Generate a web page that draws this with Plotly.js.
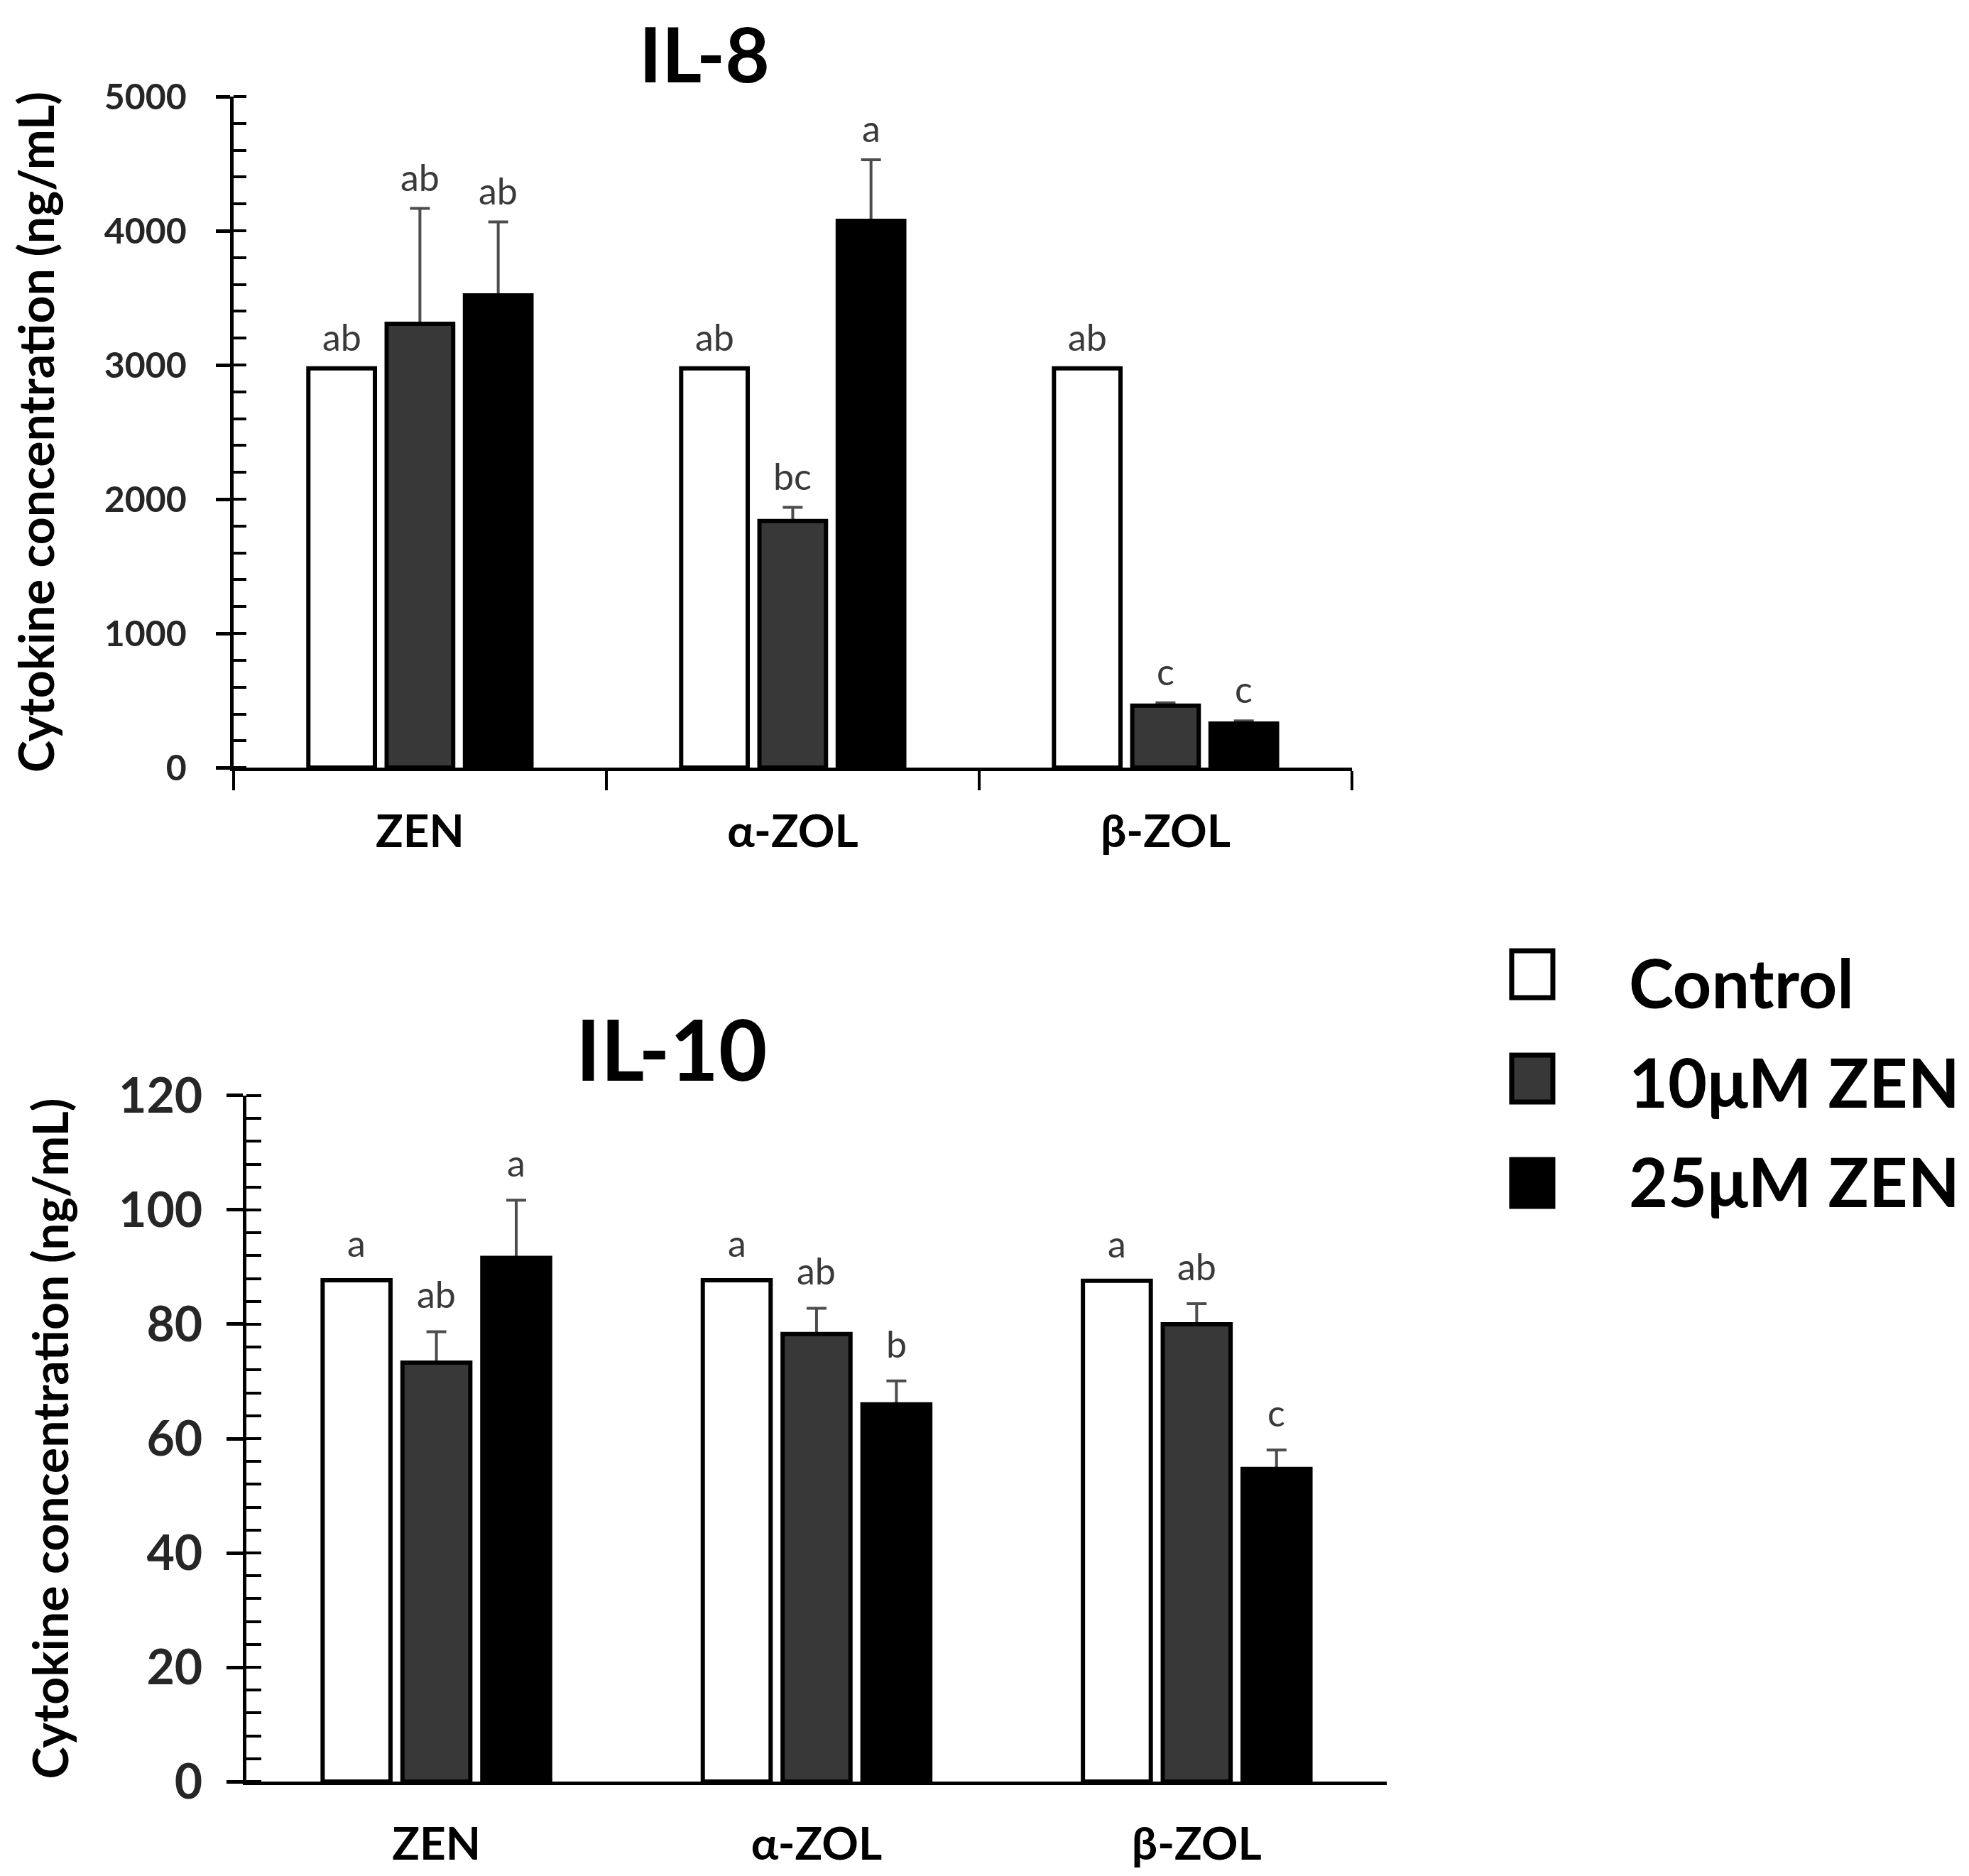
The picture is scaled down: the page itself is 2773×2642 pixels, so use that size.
<!DOCTYPE html>
<html>
<head>
<meta charset="utf-8">
<script src="https://cdn.plot.ly/plotly-3.0.1.min.js"></script>
<style>
  html, body { margin: 0; padding: 0; background: #fff; }
</style>
</head>
<body>
<div id="chart" style="width:2773px;height:2642px"></div>
<script>
// categories + series
const categories = ["ZEN", "α-ZOL", "β-ZOL"];
const seriesNames = ["Control", "10μM ZEN", "25μM ZEN"];

// IL-8 (ng/mL)
const il8Control = [2975, 2975, 2975];
const il8Zen10 = [3307, 1838, 462];
const il8Zen25 = [3519, 4074, 328];
const il8Zen10Err = [860, 101, 21];
const il8Zen25Err = [547, 456, 21];
const il8Letters = [["ab", "ab", "ab"], ["ab", "bc", "c"], ["ab", "a", "c"]];

// IL-10 (ng/mL)
const il10Control = [87.7, 87.7, 87.6];
const il10Zen10 = [73.3, 78.3, 80.0];
const il10Zen25 = [91.6, 66.0, 54.7];
const il10Zen10Err = [5.4, 4.5, 3.6];
const il10Zen25Err = [10.1, 4.1, 3.3];
const il10Letters = [["a", "a", "a"], ["ab", "ab", "ab"], ["a", "b", "c"]];

const FONT = 'Lato, "Open Sans", sans-serif';
const BARGAP = 0.37;
const fills = ["#ffffff", "#383838", "#000000"];

const errStyle = { type: "data", symmetric: false, color: "#4d4d4d", thickness: 4, width: 14 };

// error bars sit on a transparent copy of each bar, drawn first,
// so the real bar covers the lower cap
function makeBars(values, errs, xa, ya) {
  const under = [];
  const over = [];
  values.forEach((v, k) => {
    const u = {
      type: "bar", x: categories, y: v, xaxis: xa, yaxis: ya,
      offsetgroup: "g" + k, showlegend: false, hoverinfo: "skip",
      marker: { color: "rgba(0,0,0,0)", line: { width: 0 } }
    };
    if (errs[k]) {
      u.error_y = Object.assign({}, errStyle, {
        array: errs[k],
        arrayminus: errs[k].map(() => 0)
      });
    }
    under.push(u);
    over.push({
      type: "bar", x: categories, y: v, name: seriesNames[k], xaxis: xa, yaxis: ya,
      offsetgroup: "g" + k, showlegend: false, hoverinfo: "skip",
      marker: { color: fills[k], line: { color: "#000", width: 6 } }
    });
  });
  return under.concat(over);
}

const il8Values = [il8Control, il8Zen10, il8Zen25];
const il8Errs = [null, il8Zen10Err, il8Zen25Err];
const il10Values = [il10Control, il10Zen10, il10Zen25];
const il10Errs = [null, il10Zen10Err, il10Zen25Err];

const data = [
  ...makeBars(il8Values, il8Errs, "x", "y"),
  ...makeBars(il10Values, il10Errs, "x2", "y2")
];

// significance letters above each bar (or its error bar)
function letterNotes(values, errs, letters, xa, ya, shift) {
  const slot = (1 - BARGAP) / values.length;
  const notes = [];
  values.forEach((v, k) => {
    v.forEach((val, i) => {
      notes.push({
        xref: xa, yref: ya,
        x: i + (k - 1) * slot,
        y: val + (errs[k] ? errs[k][i] : 0),
        text: letters[k][i],
        showarrow: false,
        yanchor: "bottom",
        yshift: shift,
        font: { family: FONT, size: 52, color: "#3a3a3a" }
      });
    });
  });
  return notes;
}

const annotations = [
  ...letterNotes(il8Values, il8Errs, il8Letters, "x", "y", 12),
  ...letterNotes(il10Values, il10Errs, il10Letters, "x2", "y2", 20),
  { xref: "paper", yref: "paper", x: 0.3577, y: 0.972, text: "<b>IL-8</b>", showarrow: false,
    xanchor: "center", yanchor: "middle", font: { family: FONT, size: 108, color: "#000" } },
  { xref: "paper", yref: "paper", x: 0.3411, y: 0.441, text: "<b>IL-10</b>", showarrow: false,
    xanchor: "center", yanchor: "middle", font: { family: FONT, size: 118, color: "#000" } }
];

// legend drawn by hand so the swatches can be as big as the text
const shapes = [];
seriesNames.forEach((name, k) => {
  const yc = 1 - (1372 + 147 * k) / 2642;
  shapes.push({
    type: "rect", xref: "paper", yref: "paper",
    xsizemode: "pixel", ysizemode: "pixel",
    xanchor: 0.7782, yanchor: yc,
    x0: -29, x1: 29, y0: -33, y1: 33,
    fillcolor: fills[k], line: { color: "#000", width: 7 }
  });
  annotations.push({
    xref: "paper", yref: "paper", x: 0.8266, y: 1 - (1383 + 140 * k) / 2642,
    text: "<b>" + name + "</b>", showarrow: false, xanchor: "left", yanchor: "middle",
    font: { family: FONT, size: 95, color: "#000" }
  });
});

const yTitle = "<b>Cytokine concentration (ng/mL)</b>";

// inside half of the major ticks (the reference ticks cross the axis)
function innerTicks(overlay, anchor, range, dtick, len) {
  return {
    overlaying: overlay, anchor: anchor, range: range, dtick: dtick,
    ticks: "inside", ticklen: len, tickwidth: 5, tickcolor: "#000",
    showticklabels: false, showline: false, showgrid: false, zeroline: false, fixedrange: true
  };
}

const layout = {
  width: 2773,
  height: 2642,
  margin: { l: 0, r: 0, t: 0, b: 0 },
  paper_bgcolor: "#fff",
  plot_bgcolor: "#fff",
  barmode: "group",
  bargap: BARGAP,
  bargroupgap: 0.15,
  showlegend: false,
  font: { family: FONT, color: "#000" },
  xaxis: {
    domain: [0.1186, 0.6866],
    anchor: "y",
    type: "category",
    range: [-0.5, 2.5],
    showline: true, linecolor: "#000", linewidth: 5,
    ticks: "outside", tickson: "boundaries", ticklen: 27, tickwidth: 4, tickcolor: "#000",
    ticklabelstandoff: 30,
    tickfont: { family: FONT, size: 64, color: "#000", weight: "bold" },
    showgrid: false, zeroline: false, fixedrange: true
  },
  yaxis: {
    domain: [0.5908, 0.9485],
    anchor: "x",
    range: [0, 5000],
    dtick: 1000,
    showline: true, linecolor: "#000", linewidth: 5,
    ticks: "outside", ticklen: 20, tickwidth: 5, tickcolor: "#000",
    minor: { dtick: 200, ticks: "inside", ticklen: 18, tickwidth: 4, tickcolor: "#000" },
    ticklabelstandoff: 31,
    tickfont: { family: FONT, size: 50, color: "#262626", weight: "bold" },
    title: { text: yTitle, standoff: 50, font: { family: FONT, size: 68, color: "#000" } },
    showgrid: false, zeroline: false, fixedrange: true
  },
  yaxis3: innerTicks("y", "x", [0, 5000], 1000, 18),
  xaxis2: {
    domain: [0.1251, 0.7043],
    anchor: "y2",
    type: "category",
    range: [-0.5, 2.5],
    showline: true, linecolor: "#000", linewidth: 5,
    ticks: "",
    ticklabelstandoff: 28,
    tickfont: { family: FONT, size: 64, color: "#000", weight: "bold" },
    showgrid: false, zeroline: false, fixedrange: true
  },
  yaxis2: {
    domain: [0.0503, 0.4160],
    anchor: "x2",
    range: [0, 120],
    dtick: 20,
    showline: true, linecolor: "#000", linewidth: 5,
    ticks: "outside", ticklen: 23, tickwidth: 5, tickcolor: "#000",
    minor: { dtick: 4, ticks: "inside", ticklen: 21, tickwidth: 4, tickcolor: "#000" },
    ticklabelstandoff: 20,
    tickfont: { family: FONT, size: 68, color: "#262626", weight: "bold" },
    title: { text: yTitle, standoff: 50, font: { family: FONT, size: 68, color: "#000" } },
    showgrid: false, zeroline: false, fixedrange: true
  },
  yaxis4: innerTicks("y2", "x2", [0, 120], 20, 21),
  annotations: annotations,
  shapes: shapes
};

Plotly.newPlot("chart", data, layout, { staticPlot: true, displayModeBar: false });
</script>
</body>
</html>
